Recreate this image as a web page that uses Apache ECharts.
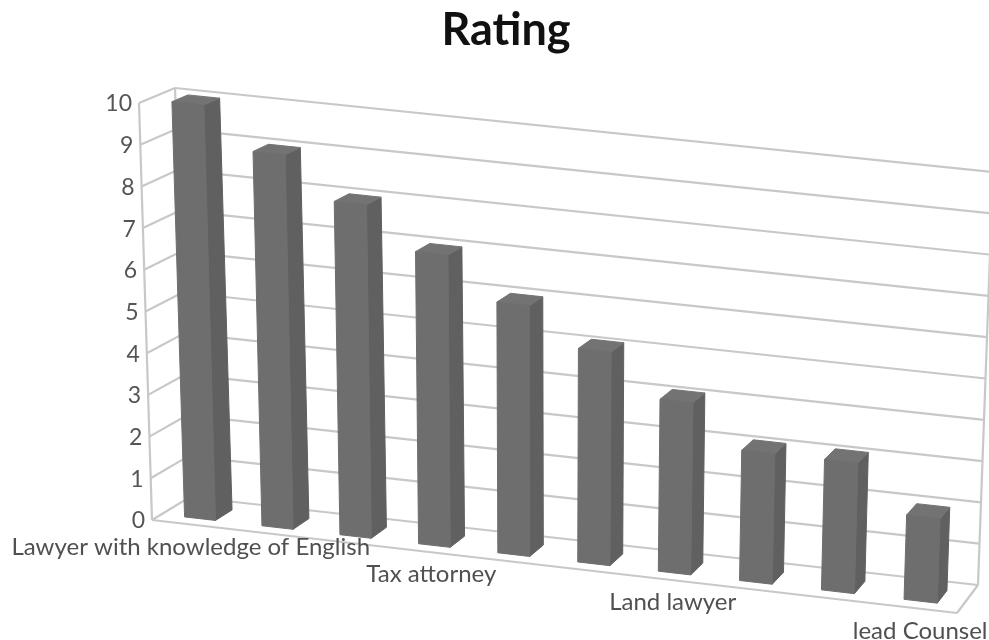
<!DOCTYPE html>
<html>
<head>
<meta charset="utf-8">
<style>html,body{margin:0;padding:0;background:#fff}#chart{width:989px;height:640px}</style>
<script src="https://cdn.jsdelivr.net/npm/echarts@6/dist/echarts.min.js"></script>
</head>
<body>
<div id="chart"></div>
<script>
const categories = ['Lawyer with knowledge of English', '', '', 'Tax attorney', '', '', 'Land lawyer', '', '', 'lead Counsel'];
const ratings = [10, 9, 8, 7, 6, 5.1, 4.1, 3.1, 3.1, 2];
const valueTicks = [0, 1, 2, 3, 4, 5, 6, 7, 8, 9, 10];

// Eight corners of the projected box: [front/back][left/right][floor/ceiling]
const box = {
  frontLeftFloor: [152, 520], frontLeftTop: [139, 103],
  backLeftFloor: [190, 497], backLeftTop: [175, 88],
  frontRightFloor: [957, 613], frontRightTop: [972, 188],
  backRightFloor: [978, 585], backRightTop: [993, 172]
};
const barWidthRatio = 0.4, barFront = 0.25, barBack = 0.7, widthGain = -0.04;

const lerp = (a, b, t) => [a[0] + (b[0] - a[0]) * t, a[1] + (b[1] - a[1]) * t];

// Project unit-cube coordinates (along the x axis, up the value axis, into the depth) to the page
function project(u, h, d) {
  const w = u * (1 + widthGain) / (1 + widthGain * u);
  const fl = lerp(lerp(box.frontLeftFloor, box.frontLeftTop, h), lerp(box.frontRightFloor, box.frontRightTop, h), w);
  const bk = lerp(lerp(box.backLeftFloor, box.backLeftTop, h), lerp(box.backRightFloor, box.backRightTop, h), w);
  return lerp(fl, bk, d);
}
const toUnit = (rect, p) => [(p[0] - rect.x) / rect.width, (rect.y + rect.height - p[1]) / rect.height];

const lineStyle = { stroke: '#c8c8c8', lineWidth: 2.2, fill: null };
const seg = (a, b) => ({ type: 'line', shape: { x1: a[0], y1: a[1], x2: b[0], y2: b[1] }, style: lineStyle, silent: true });
const face = (pts, fill) => ({ type: 'polygon', shape: { points: pts }, style: { fill, stroke: fill, lineWidth: 1 } });

// Gridlines on the back and side walls, with their value labels
function renderWall(params, api) {
  const rect = params.coordSys;
  const v = api.value(0);
  const h = toUnit(rect, api.coord([0, v]))[1];
  const front = project(0, h, 0);
  const children = [
    seg(front, project(0, h, 1)),
    seg(project(0, h, 1), project(1, h, 1)),
    {
      type: 'text',
      style: { text: String(v), x: front[0] - 7, y: front[1] + 1, fill: '#555555', font: '23px Lato', textAlign: 'right', textVerticalAlign: 'middle' }
    }
  ];
  if (v === 0) {
    children.push(seg(project(0, 0, 0), project(1, 0, 0)), seg(project(1, 0, 0), project(1, 0, 1)));
    children.push(seg(project(0, 0, 0), project(0, 1, 0)), seg(project(1, 0, 1), project(1, 1, 1)));
    children.push(seg(project(0, 0, 1), project(0, 1, 1)));
  }
  return { type: 'group', children };
}

// Each rating as a prism standing on the floor
function renderBar(params, api) {
  const rect = params.coordSys;
  const i = api.value(0);
  const c = toUnit(rect, api.coord([i, api.value(1)]));
  const half = api.size([1, 0])[0] * barWidthRatio / 2 / rect.width;
  const l = c[0] - half, r = c[0] + half, h = c[1];
  const children = [
    face([project(r, 0, barFront), project(r, 0, barBack), project(r, h, barBack), project(r, h, barFront)], '#606060'),
    face([project(l, h, barFront), project(r, h, barFront), project(r, h, barBack), project(l, h, barBack)], '#737373'),
    face([project(l, 0, barFront), project(r, 0, barFront), project(r, h, barFront), project(l, h, barFront)], '#6e6e6e')
  ];
  return { type: 'group', children };
}

// Category names under the front edge of the floor; the long first one sits flush with its bar
function renderCategory(params, api) {
  const rect = params.coordSys;
  const i = api.value(0);
  const name = categories[i];
  if (!name) return null;
  const u = toUnit(rect, api.coord([i, 0]))[0];
  const p = project(u, 0, 0);
  return {
    type: 'text',
    style: { text: name, x: p[0] + (i === 0 ? 0 : 5), y: p[1] + 23, fill: '#505050', font: '24px Lato', textAlign: 'center', textVerticalAlign: 'middle' }
  };
}

const chart = echarts.init(document.getElementById('chart'));
chart.setOption({
  animation: false,
  backgroundColor: '#ffffff',
  title: {
    text: 'Rating', left: 501, top: 3, textAlign: 'center',
    textStyle: { fontFamily: 'Lato', fontSize: 45, fontWeight: 'bold', color: '#111111' }
  },
  grid: { left: 100, top: 100, width: 800, height: 400 },
  xAxis: { type: 'category', data: categories, show: false },
  yAxis: { type: 'value', min: 0, max: 10, interval: 1, show: false },
  series: [
    { type: 'custom', name: 'walls', renderItem: renderWall, data: valueTicks.map(v => [v]), encode: { y: 0 }, silent: true, z: 1 },
    { type: 'custom', name: 'Rating', renderItem: renderBar, data: ratings.map((v, i) => [i, v]), encode: { x: 0, y: 1 }, z: 2 },
    { type: 'custom', name: 'categories', renderItem: renderCategory, data: categories.map((c, i) => [i]), encode: { x: 0 }, silent: true, z: 3 }
  ]
});
</script>
</body>
</html>
